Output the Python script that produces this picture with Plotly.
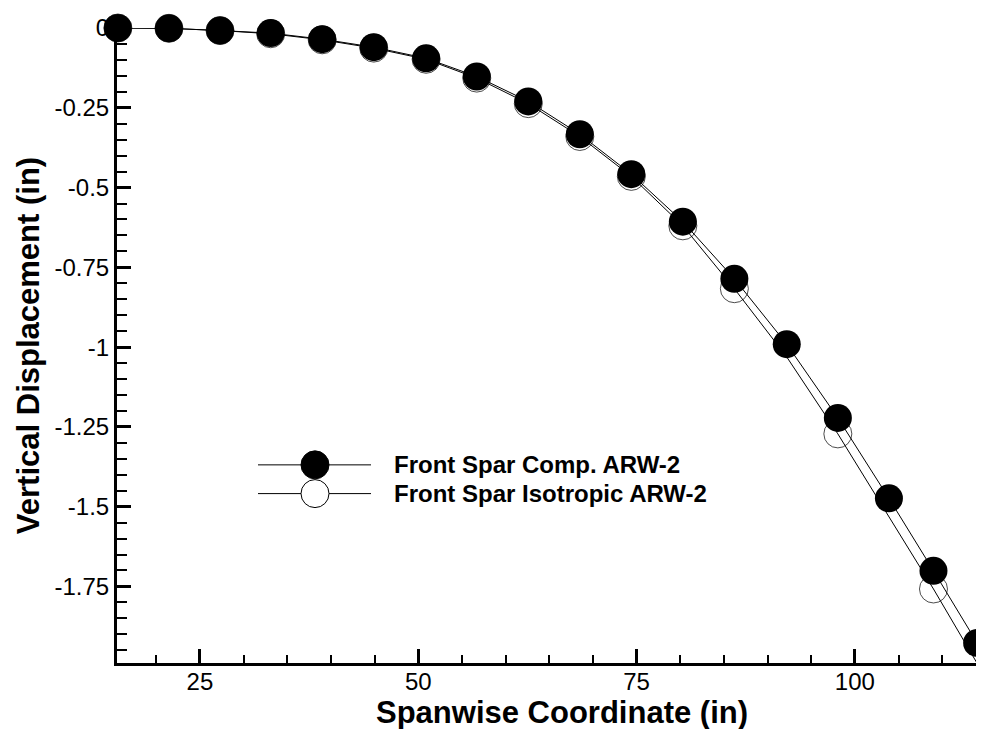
import plotly.graph_objects as go

# ---------------- data ----------------
span_x = [15.6, 21.45, 27.3, 33.1, 39.0, 44.9, 50.9, 56.7, 62.6, 68.5,
          74.4, 80.3, 86.2, 92.2, 98.05, 103.9, 109.0, 114.0]
comp_y = [0.0, -0.001, -0.008, -0.016, -0.035, -0.060, -0.095, -0.152, -0.230, -0.333,
          -0.458, -0.607, -0.786, -0.991, -1.222, -1.474, -1.701, -1.927]
iso_y = [0.0, -0.001, -0.008, -0.018, -0.037, -0.063, -0.098, -0.157, -0.237, -0.340,
         -0.465, -0.620, -0.817, -1.031, -1.272, -1.530, -1.758, -1.991]
iso_symbol_shown = [True] * 13 + [False, True, False, True, True]

x_ticks = [25, 50, 75, 100]
y_ticks = [0, -0.25, -0.5, -0.75, -1, -1.25, -1.5, -1.75]
y_ticktext = ["0", "-0.25", "-0.5", "-0.75", "-1", "-1.25", "-1.5", "-1.75"]

names = ["Front Spar Comp. ARW-2", "Front Spar Isotropic ARW-2"]
x_title = "Spanwise Coordinate (in)"
y_title = "Vertical Displacement (in)"

# ---------------- style ----------------
FONT = "Liberation Sans, Arial, sans-serif"
PAGE_OFF = 8                      # default body margin of the html page
W, H = 984 - PAGE_OFF, 729 - PAGE_OFF
# plot area in window pixels: x 117..978, y 22..663
ML, MR, MT, MB = 117 - PAGE_OFF, 984 - 978, 22 - PAGE_OFF, 729 - 663
MS = 28

fig = go.Figure()

# isotropic line
fig.add_trace(go.Scatter(
    x=span_x, y=iso_y, mode="lines",
    line=dict(color="black", width=1), showlegend=False, hoverinfo="skip",
    cliponaxis=False))
# isotropic markers
fig.add_trace(go.Scatter(
    x=span_x, y=iso_y, mode="markers",
    marker=dict(symbol="circle-open", size=[MS if s else 0 for s in iso_symbol_shown],
                color="black", line=dict(color="black", width=1)),
    name=names[1], showlegend=False, cliponaxis=False))
# composite
fig.add_trace(go.Scatter(
    x=span_x, y=comp_y, mode="lines+markers",
    line=dict(color="black", width=1),
    marker=dict(symbol="circle", size=MS, color="black", line=dict(width=0)),
    name=names[0], showlegend=False, cliponaxis=False))

# ---------------- custom legend (window-pixel layout) ----------------
pw = W - ML - MR
ph = H - MT - MB


def px2paper(px, py):
    # px, py are window pixels
    px -= PAGE_OFF
    py -= PAGE_OFF
    return (px - ML) / pw, (H - MB - py) / ph


leg_rows = [(463, "filled"), (492, "open")]
shapes = []
annotations = []
for (py, kind), label in zip(leg_rows, names):
    x0, y0 = px2paper(258, py)
    x1, _ = px2paper(371, py)
    shapes.append(dict(type="line", xref="paper", yref="paper", x0=x0, x1=x1, y0=y0, y1=y0,
                       line=dict(color="black", width=1), layer="above"))
    cx, cy = px2paper(315, py)
    shapes.append(dict(type="circle", xref="paper", yref="paper",
                       xsizemode="pixel", ysizemode="pixel", xanchor=cx, yanchor=cy,
                       x0=-MS / 2, x1=MS / 2, y0=-MS / 2, y1=MS / 2,
                       fillcolor="black" if kind == "filled" else "white",
                       line=dict(color="black", width=1), layer="above"))
    tx, ty = px2paper(392, py)
    annotations.append(dict(xref="paper", yref="paper", x=tx, y=ty, xanchor="left", yanchor="middle",
                            text="<b>%s</b>" % label, showarrow=False,
                            font=dict(family=FONT, size=24, color="black")))

# x-axis title (placed as in the reference, slightly right of centre)
tx, ty = px2paper(562, 694)
annotations.append(dict(xref="paper", yref="paper", x=tx, y=ty, xanchor="center", yanchor="top",
                        text="<b>%s</b>" % x_title, showarrow=False, borderpad=0,
                        font=dict(family=FONT, size=31, color="black")))

axis_common = dict(
    showline=True, linewidth=3, linecolor="black", mirror=False,
    ticks="inside", ticklen=14, tickwidth=3, tickcolor="black",
    showgrid=False, zeroline=False,
    tickfont=dict(family=FONT, size=24, color="black"),
)

fig.update_layout(
    width=W, height=H,
    margin=dict(l=ML, r=MR, t=MT, b=MB, pad=0),
    paper_bgcolor="white", plot_bgcolor="white",
    font=dict(family=FONT, color="black"),
    shapes=shapes, annotations=annotations,
    xaxis=dict(range=[15.5, 114.1], tickvals=x_ticks, **axis_common,
               ticklabelstandoff=-5,
               minor=dict(dtick=5, tick0=0, ticks="inside", ticklen=8, tickwidth=1.5, tickcolor="black")),
    yaxis=dict(range=[-1.99, 0], tickvals=y_ticks, ticktext=y_ticktext, **axis_common,
               minor=dict(dtick=0.05, tick0=0, ticks="inside", ticklen=10, tickwidth=2, tickcolor="black"),
               title=dict(text="<b>%s</b>" % y_title, font=dict(family=FONT, size=31), standoff=6)),
)

fig.write_html("out.html")
